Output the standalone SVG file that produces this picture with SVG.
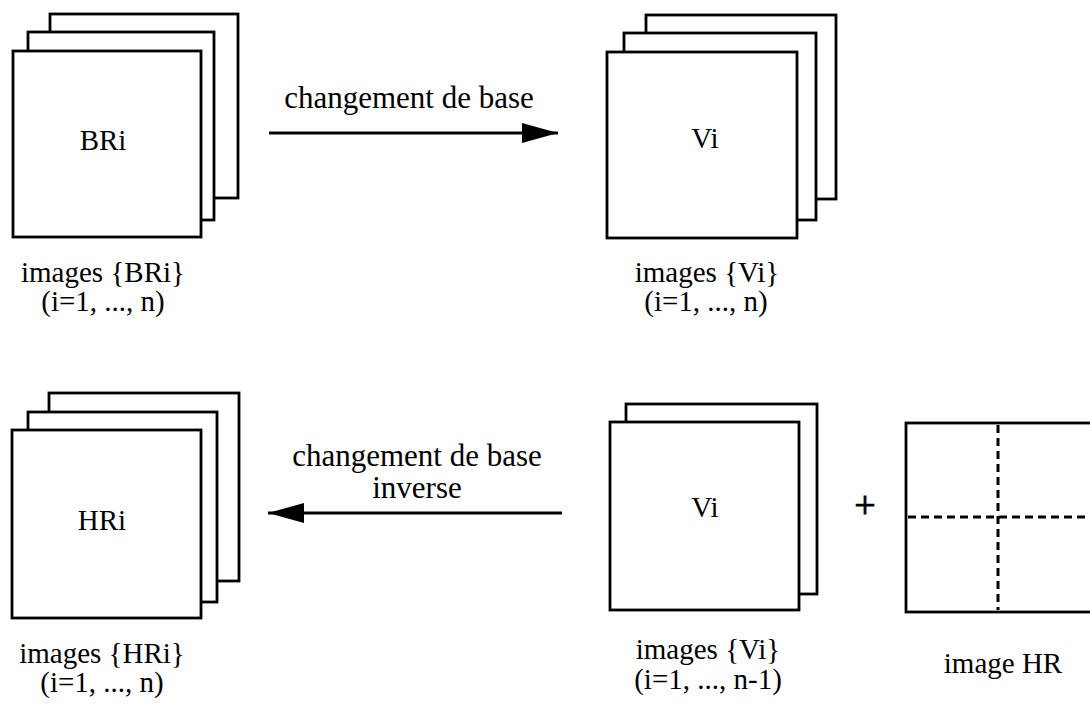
<svg xmlns="http://www.w3.org/2000/svg" width="1090" height="704" viewBox="0 0 1090 704">
<defs>
<style>
.f{fill:#fff;stroke:#000;stroke-width:2.8}
.t{font-family:"Liberation Serif","Times New Roman",serif;font-size:29px;fill:#000;text-anchor:middle}
.l{font-size:31px}
.c{stroke:#000;stroke-width:2.8;fill:none}
.d{stroke:#000;stroke-width:3;fill:none;stroke-dasharray:8 5}
</style>
<marker id="ah" viewBox="0 0 36 20" refX="36" refY="10" markerWidth="36" markerHeight="20" markerUnits="userSpaceOnUse" orient="auto">
<path d="M0,0 L36,10 L0,20 Z" fill="#000"/>
</marker>
</defs>
<rect width="1090" height="704" fill="#fff"/>
<g id="connectors">
<line class="c" x1="269" y1="133" x2="558" y2="133" marker-end="url(#ah)"/>
<line class="c" x1="562" y1="513" x2="268" y2="513" marker-end="url(#ah)"/>
<text class="t l" x="409" y="108">changement de base</text>
<text class="t l" x="417" y="466">changement de base</text>
<text class="t l" x="417" y="498">inverse</text>
</g>
<g id="node-BRi">
<rect class="f" x="50" y="14" width="188" height="184"/>
<rect class="f" x="28" y="32" width="186" height="188"/>
<rect class="f" x="13" y="51" width="188" height="186"/>
<text class="t" x="103" y="150">BRi</text>
<text class="t" x="103" y="282">images {BRi}</text>
<text class="t" x="103" y="311">(i=1, ..., n)</text>
</g>
<g id="node-Vi-top">
<rect class="f" x="646" y="15" width="190" height="184"/>
<rect class="f" x="624" y="33" width="192" height="187"/>
<rect class="f" x="607" y="52" width="190" height="186"/>
<text class="t" x="705" y="148">Vi</text>
<text class="t" x="707" y="282">images {Vi}</text>
<text class="t" x="706" y="311">(i=1, ..., n)</text>
</g>
<g id="node-HRi">
<rect class="f" x="49" y="393" width="190" height="188"/>
<rect class="f" x="28" y="412" width="189" height="190"/>
<rect class="f" x="12" y="430" width="189" height="188"/>
<text class="t" x="102" y="530">HRi</text>
<text class="t" x="102" y="663">images {HRi}</text>
<text class="t" x="102" y="692">(i=1, ..., n)</text>
</g>
<g id="node-Vi-bottom">
<rect class="f" x="626" y="404" width="191" height="190"/>
<rect class="f" x="610" y="422" width="189" height="188"/>
<text class="t" x="705" y="517">Vi</text>
<text class="t" x="708" y="659">images {Vi}</text>
<text class="t" x="708" y="689">(i=1, ..., n-1)</text>
</g>
<g id="plus">
<text class="t" x="865" y="518" style="font-size:38px;stroke:#000;stroke-width:0.8">+</text>
</g>
<g id="node-HR">
<rect class="f" x="906" y="423" width="200" height="189"/>
<line class="d" x1="998" y1="425" x2="998" y2="610"/>
<line class="d" x1="908" y1="517" x2="1090" y2="517"/>
<text class="t" x="1003" y="673">image HR</text>
</g>
</svg>
